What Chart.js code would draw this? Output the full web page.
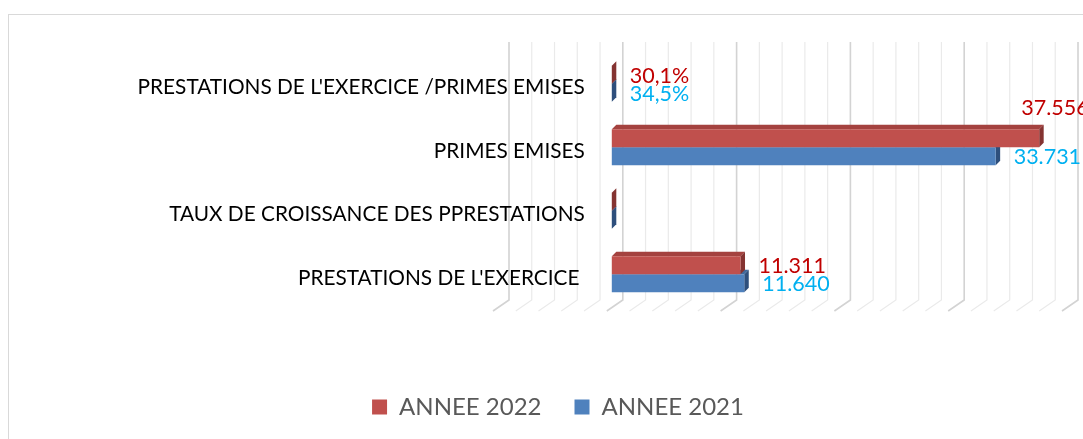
<!DOCTYPE html>
<html>
<head>
<meta charset="utf-8">
<script src="https://cdn.jsdelivr.net/npm/chart.js@4"></script>
<style>
    html, body { margin: 0; padding: 0; background: #fff; overflow: hidden; }
</style>
</head>
<body>
<canvas id="chart" width="1083" height="439"></canvas>
<script>
// Categories, top to bottom
const categories = [
    "PRESTATIONS DE L'EXERCICE /PRIMES EMISES",
    'PRIMES EMISES',
    'TAUX DE CROISSANCE DES PPRESTATIONS',
    "PRESTATIONS DE L'EXERCICE "
];
const seriesNames = ['ANNEE 2022', 'ANNEE 2021'];
const annee2022 = [0.301, 37556, -0.028, 11311];
const annee2021 = [0.345, 33731, 0.05, 11640];
// growth row has no data labels in the original
const showLabels = [true, true, false, true];

// value axis: no tick labels, only gridlines
const axisMin = -10000;
const axisMax = 40000;
const gridStep = 2000;
const majorStep = 10000;

const FONT = 'Lato, "Open Sans", sans-serif';
const DEPTH = 4.5;

function formatValue(v, i) {
    if (i === 0) return (v * 100).toFixed(1).replace('.', ',') + '%';
    return String(Math.round(v)).replace(/\B(?=(\d{3})+(?!\d))/g, '.');
}

const bar3d = {
    id: 'bar3d',
    beforeDraw(chart) {
        const ctx = chart.ctx;
        ctx.save();
        ctx.strokeStyle = '#D9D9D9';
        ctx.lineWidth = 1;
        ctx.strokeRect(8.5, 14.5, chart.width + 20, chart.height + 20);
        ctx.restore();
    },
    beforeDatasetsDraw(chart) {
        const { ctx, chartArea, scales: { x, y } } = chart;
        ctx.save();

        // back wall and floor gridlines
        for (let v = axisMin; v <= axisMax; v += gridStep) {
            const xb = x.getPixelForValue(v) + 11;
            const major = v % majorStep === 0;
            ctx.strokeStyle = major ? '#D3D3D3' : '#EAEAEA';
            ctx.lineWidth = major ? 1.6 : 1.2;
            ctx.beginPath();
            ctx.moveTo(xb, chartArea.top - 10);
            ctx.lineTo(xb, chartArea.bottom - 6);
            ctx.lineTo(xb - 16, chartArea.bottom + 5);
            ctx.stroke();
        }

        // category labels
        ctx.fillStyle = '#000';
        ctx.font = '20.8px ' + FONT;
        ctx.textAlign = 'right';
        ctx.textBaseline = 'middle';
        chart.data.labels.forEach((lab, i) => {
            ctx.fillText(lab, x.getPixelForValue(0) - 27, y.getPixelForValue(i) + 4);
        });

        // top and side faces, behind the front faces
        for (let d = chart.data.datasets.length - 1; d >= 0; d--) {
            const ds = chart.data.datasets[d];
            chart.getDatasetMeta(d).data.forEach(bar => {
                const p = bar.getProps(['x', 'y', 'base', 'height'], true);
                const left = Math.min(p.x, p.base);
                const right = Math.max(p.x, p.base);
                const top = p.y - p.height / 2;
                const bottom = p.y + p.height / 2;

                ctx.fillStyle = ds.topColor;
                ctx.beginPath();
                ctx.moveTo(left, top);
                ctx.lineTo(right, top);
                ctx.lineTo(right + DEPTH, top - DEPTH);
                ctx.lineTo(left + DEPTH, top - DEPTH);
                ctx.closePath();
                ctx.fill();

                ctx.fillStyle = ds.sideColor;
                ctx.beginPath();
                ctx.moveTo(right, top);
                ctx.lineTo(right + DEPTH, top - DEPTH);
                ctx.lineTo(right + DEPTH, bottom - DEPTH);
                ctx.lineTo(right, bottom);
                ctx.closePath();
                ctx.fill();
            });
        }
        ctx.restore();
    },
    afterDatasetsDraw(chart) {
        const ctx = chart.ctx;
        ctx.save();
        ctx.font = '21.5px ' + FONT;
        ctx.textAlign = 'left';
        ctx.textBaseline = 'middle';
        chart.data.datasets.forEach((ds, d) => {
            chart.getDatasetMeta(d).data.forEach((bar, i) => {
                if (!showLabels[i]) return;
                const text = formatValue(ds.data[i], i);
                const p = bar.getProps(['x', 'y'], true);
                let tx = p.x + 18;
                let ty = p.y + 1;
                // too close to the edge: label goes above the bar
                if (tx + ctx.measureText(text).width > chart.width) {
                    tx = p.x - 18;
                    ty = p.y - 30;
                }
                ctx.fillStyle = ds.labelColor;
                ctx.fillText(text, tx, ty);
            });
        });
        ctx.restore();
    }
};

new Chart(document.getElementById('chart'), {
    type: 'bar',
    data: {
        labels: categories,
        datasets: [
            {
                label: seriesNames[0],
                data: annee2022,
                backgroundColor: '#C0504D',
                topColor: '#A4423F',
                sideColor: '#843331',
                labelColor: '#C00000'
            },
            {
                label: seriesNames[1],
                data: annee2021,
                backgroundColor: '#4F81BD',
                topColor: '#40699C',
                sideColor: '#2E4F7C',
                labelColor: '#00B0F0'
            }
        ]
    },
    options: {
        indexAxis: 'y',
        responsive: false,
        animation: false,
        devicePixelRatio: 1,
        categoryPercentage: 0.567,
        barPercentage: 1,
        layout: { padding: { left: 49, right: 16, top: 52, bottom: 10 } },
        scales: {
            x: {
                min: axisMin,
                max: axisMax,
                ticks: { display: false },
                grid: { display: false },
                border: { display: false },
                afterFit(s) { s.height = 56; }
            },
            y: {
                ticks: { display: false },
                grid: { display: false },
                border: { display: false },
                afterFit(s) { s.width = 449; }
            }
        },
        plugins: {
            tooltip: { enabled: false },
            legend: {
                position: 'bottom',
                labels: {
                    boxWidth: 15,
                    boxHeight: 15,
                    padding: 33,
                    color: '#595959',
                    font: { family: FONT, size: 24 }
                }
            }
        }
    },
    plugins: [bar3d]
});
</script>
</body>
</html>
